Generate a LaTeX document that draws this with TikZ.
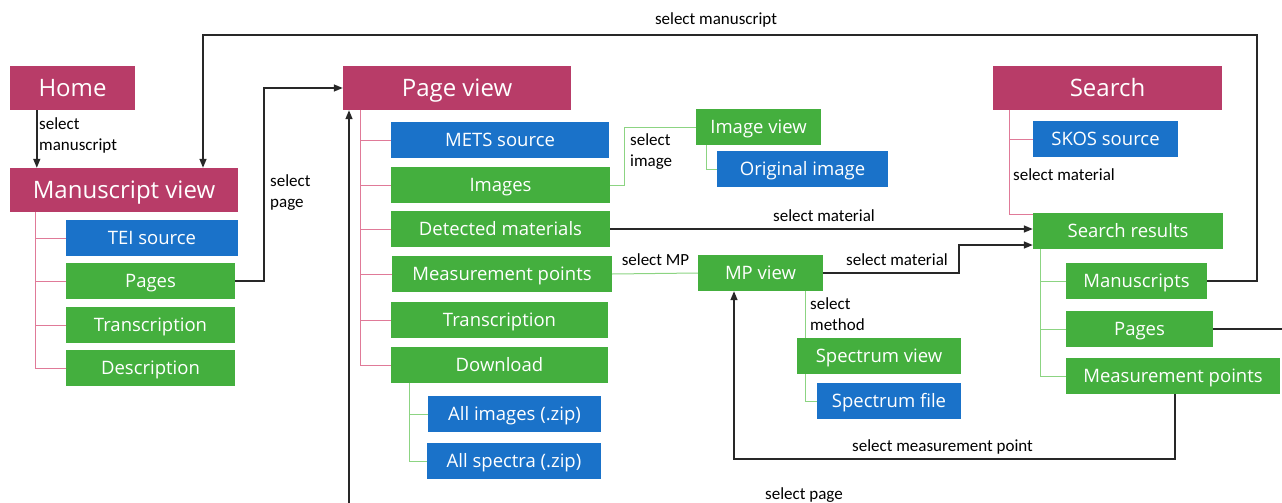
\documentclass[tikz,border=0pt]{standalone}
\usepackage{fontspec}
\setmainfont{Open Sans}
\newfontfamily\lblfont{Carlito}
\usetikzlibrary{arrows.meta}
\definecolor{cmag}{RGB}{184,60,104}
\definecolor{cblue}{RGB}{26,114,201}
\definecolor{cgreen}{RGB}{68,175,62}
\definecolor{cpink}{RGB}{224,122,152}
\definecolor{clgreen}{RGB}{140,212,130}
\definecolor{cline}{RGB}{40,40,40}
\tikzset{
  x=1pt,y=-1pt,
  bx/.style={draw=none,text=white,inner sep=0pt,minimum height=36pt,text height=13.2pt,text depth=0pt,font=\fontsize{18.5}{20}\selectfont},
  tbox/.style={bx,fill=cmag,minimum height=44pt,text height=17.1pt,font=\fontsize{24}{26}\selectfont},
  gbox/.style={bx,fill=cgreen},
  bbox/.style={bx,fill=cblue},
  lbl/.style={inner sep=0pt,align=left,font=\lblfont\fontsize{17}{21}\selectfont},
  pinkl/.style={draw=cpink,line width=1pt},
  greenl/.style={draw=clgreen,line width=1pt},
  conn/.style={draw=cline,line width=1.4pt},
  arr/.style={conn,-{Triangle[length=9pt,width=7pt]}}
}
\begin{document}
\begin{tikzpicture}
\useasboundingbox (0,0) rectangle (1282,503);
\clip (0,0) rectangle (1282,503);
% boxes
\node[tbox,minimum width=125pt] (home) at (72.5,88) {Home};
\node[tbox,minimum width=228pt] (msv) at (124,190) {Manuscript view};
\node[bbox,minimum width=172pt] (tei) at (152,238) {TEI source};
\node[gbox,minimum width=169pt] (pages1) at (150.5,281) {Pages};
\node[gbox,minimum width=169pt] (trans1) at (150.5,325) {Transcription};
\node[gbox,minimum width=169pt] (desc) at (150.5,368) {Description};
\node[tbox,minimum width=228pt] (pv) at (457,88) {Page view};
\node[bbox,minimum width=218pt] (mets) at (500,140) {METS source};
\node[gbox,minimum width=219pt] (images) at (500.5,185) {Images};
\node[gbox,minimum width=219pt] (detected) at (500.5,229) {Detected materials};
\node[gbox,minimum width=220pt] (mp1) at (502,274) {Measurement points};
\node[gbox,minimum width=217pt] (trans2) at (499.5,320) {Transcription};
\node[gbox,minimum width=217pt] (download) at (499.5,365) {Download};
\node[bbox,minimum width=173pt] (allimg) at (514.5,414) {All images (.zip)};
\node[bbox,minimum width=174pt] (allspec) at (514,461) {All spectra (.zip)};
\node[gbox,minimum width=125pt] (imgview) at (758.5,127) {Image view};
\node[bbox,minimum width=171pt] (origimg) at (802.5,169) {Original image};
\node[gbox,minimum width=125pt] (mpview) at (760.5,273) {MP view};
\node[gbox,minimum width=164pt] (specview) at (879,356) {Spectrum view};
\node[bbox,minimum width=144pt] (specfile) at (889,401) {Spectrum file};
\node[tbox,minimum width=229pt] (search) at (1107.5,88) {Search};
\node[bbox,minimum width=145pt] (skos) at (1105.5,139) {SKOS source};
\node[gbox,minimum width=190pt] (sres) at (1128,231) {Search results};
\node[gbox,minimum width=141pt] (manus) at (1136.5,281) {Manuscripts};
\node[gbox,minimum width=147pt] (pages2) at (1139.5,329) {Pages};
\node[gbox,minimum width=214pt] (mp2) at (1173,376) {Measurement points};
% tree coordinates
\coordinate (msvt) at (35,212);
\coordinate (pvt) at (360,110);
\coordinate (dlt) at (409,383);
\coordinate (ivt) at (706,145);
\coordinate (svt) at (805,374);
\coordinate (mpt) at (805,291);
\coordinate (srt) at (1009,110);
\coordinate (rst) at (1040,249);
% pink trees
\draw[pinkl] (msvt) |- (desc.west);
\foreach \n in {tei,pages1,trans1} \draw[pinkl] (\n.west) -- (\n.west -| msvt);
\draw[pinkl] (pvt) |- (download.west);
\foreach \n in {mets,images,detected,mp1,trans2} \draw[pinkl] (\n.west) -- (\n.west -| pvt);
\draw[pinkl] (srt) |- ([yshift=-2pt]sres.north west);
\draw[pinkl] (skos.west) -- (skos.west -| srt);
% green trees
\draw[greenl] (dlt) |- (allspec.west);
\draw[greenl] (allimg.west) -- (allimg.west -| dlt);
\draw[greenl] (ivt) |- (origimg.west);
\draw[greenl] (svt) |- (specfile.west);
\draw[greenl] (mpt) -- (mpt |- specview.north);
\draw[greenl] (rst) |- (mp2.west);
\foreach \n in {manus,pages2} \draw[greenl] (\n.west) -- (\n.west -| rst);
\coordinate (imgc) at (624,185);
\draw[greenl] (images.east) -- (imgc) |- (imgview.west);
\draw[greenl] (mp1.east) -- (mpview.west);
% black connectors
\draw[arr] ([xshift=27pt]home.south west) -- ([xshift=27pt]msv.north west);
\coordinate (pgc) at (264,281);
\draw[arr] (pages1.east) -- (pgc) |- (pv.west);
\coordinate (smr) at (1257,35);
\coordinate (sml) at (203,35);
\draw[arr] (manus.east) -| (smr) -- (sml) -- (sml |- msv.north);
\draw[arr] (detected.east) -- (detected.east -| sres.west);
\coordinate (mpc) at (959,273);
\draw[arr] (mpview.east) -- (mpc) |- ([yshift=-14pt]sres.west);
\coordinate (mmc) at (734,459);
\draw[arr] ([xshift=2pt]mp2.south) |- (mmc) -- (mmc |- mpview.south);
\coordinate (pg1) at (1300,329);
\coordinate (pg2) at (1300,520);
\coordinate (pg3) at (349,520);
\draw[arr] (pages2.east) -- (pg1) -- (pg2) -- (pg3) -- (pg3 |- pv.south);
% labels
\node[lbl,anchor=west] (l1) at (39,135.5) {select\\manuscript};
\node[lbl,anchor=west] (l2) at (270,193) {select\\page};
\node[lbl] (l3) at (716,20) {select manuscript};
\node[lbl,anchor=west] (l4) at (630,152) {select\\image};
\node[lbl] (l5) at (824,216) {select material};
\node[lbl] (l6) at (655.5,260) {select MP};
\node[lbl] (l7) at (897,260) {select material};
\node[lbl,anchor=west] (l8) at (810,314) {select\\method};
\node[lbl,anchor=west] (l9) at (1013,175) {select material};
\node[lbl] (l10) at (942.5,447) {select measurement point};
\node[lbl] (l11) at (804,495) {select page};
\end{tikzpicture}
\end{document}
